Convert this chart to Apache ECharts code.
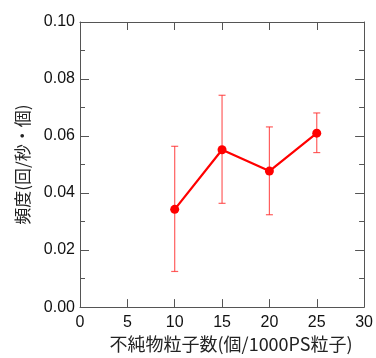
<!DOCTYPE html>
<html><head><meta charset="utf-8">
<script src="https://cdn.jsdelivr.net/npm/echarts@6/dist/echarts.min.js"></script>
<style>html,body{margin:0;padding:0;background:#fff}#c{width:376px;height:358px}</style>
</head><body><div id="c"></div>
<script>
const xValues = [10, 15, 20, 25];
const yValues = [0.0343, 0.0552, 0.0477, 0.0610];
const errLow = [0.0125, 0.0364, 0.0324, 0.0542];
const errHigh = [0.0564, 0.0743, 0.0632, 0.0681];
const xName = '不純物粒子数(個/1000PS粒子)';
const yName = '頻度(回/秒・個)';

const chart = echarts.init(document.getElementById('c'));
const axisColor = '#555';
const font = 'Liberation Sans, Arial, sans-serif';
const cjk = '"Noto Sans CJK JP", sans-serif';
const lineData = xValues.map((x, i) => [x, yValues[i]]);
const errData = xValues.map((x, i) => [x, errLow[i], errHigh[i]]);

const baseX = {
  type: 'value', min: 0, max: 30, interval: 5,
  axisLine: {show: true, onZero: false, lineStyle: {color: axisColor, width: 1}},
  axisTick: {show: true, inside: true, length: 8, lineStyle: {color: axisColor}},
  splitLine: {show: false}
};
const baseY = {
  type: 'value', min: 0, max: 0.1, interval: 0.02,
  axisLine: {show: true, onZero: false, lineStyle: {color: axisColor, width: 1}},
  axisTick: {show: true, inside: true, length: 9, lineStyle: {color: axisColor}},
  minorTick: {show: true, splitNumber: 2, length: 5, lineStyle: {color: axisColor}},
  splitLine: {show: false}, minorSplitLine: {show: false}
};

chart.setOption({
  animation: false,
  grid: {left: 80, right: 10, top: 22, bottom: 49},
  xAxis: [
    Object.assign({}, baseX, {
      position: 'bottom',
      axisLabel: {color: '#111', fontSize: 16, fontFamily: font, margin: 7},
      name: xName, nameLocation: 'middle', nameGap: 27,
      nameTextStyle: {color: '#222', fontSize: 18, fontFamily: cjk, padding: [0, 0, 0, 18]}
    }),
    Object.assign({}, baseX, {position: 'top', axisLabel: {show: false}})
  ],
  yAxis: [
    Object.assign({}, baseY, {
      position: 'left',
      axisLabel: {color: '#111', fontSize: 16, fontFamily: font, margin: 5,
        formatter: v => v.toFixed(2)},
      name: yName, nameLocation: 'middle', nameGap: 49,
      nameTextStyle: {color: '#222', fontSize: 17, fontFamily: cjk}
    }),
    Object.assign({}, baseY, {position: 'right', axisLabel: {show: false}})
  ],
  series: [
    {
      type: 'custom', xAxisIndex: 0, yAxisIndex: 0, z: 2,
      data: errData,
      renderItem: function (params, api) {
        const x = api.value(0);
        const lo = api.coord([x, api.value(1)]);
        const hi = api.coord([x, api.value(2)]);
        const w = 3.5;
        const style = {stroke: 'rgba(255,40,40,0.75)', lineWidth: 1.2};
        return {type: 'group', children: [
          {type: 'line', shape: {x1: lo[0], y1: lo[1], x2: hi[0], y2: hi[1]}, style: style},
          {type: 'line', shape: {x1: lo[0] - w, y1: lo[1], x2: lo[0] + w, y2: lo[1]}, style: style},
          {type: 'line', shape: {x1: hi[0] - w, y1: hi[1], x2: hi[0] + w, y2: hi[1]}, style: style}
        ]};
      }
    },
    {
      type: 'line', xAxisIndex: 0, yAxisIndex: 0, z: 3,
      data: lineData,
      symbol: 'circle', symbolSize: 9,
      lineStyle: {color: '#ff0000', width: 2.2},
      itemStyle: {color: '#ff0000'}
    }
  ]
});
</script></body></html>
